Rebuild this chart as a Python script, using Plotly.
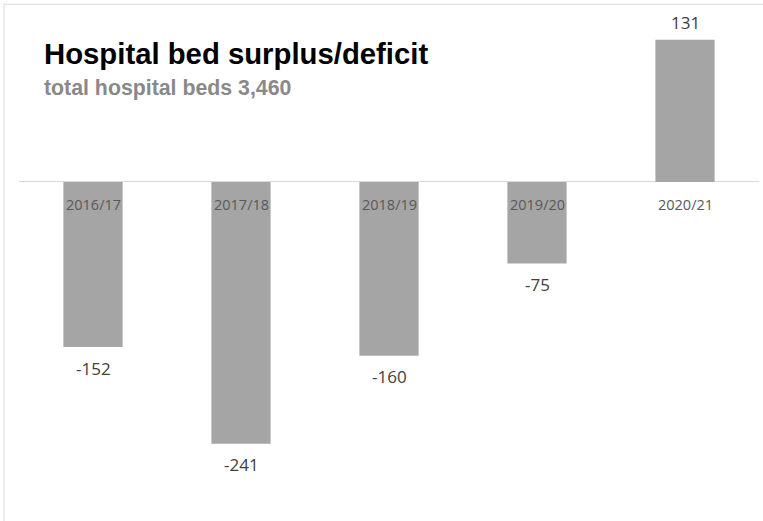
import plotly.graph_objects as go

categories = ["2016/17", "2017/18", "2018/19", "2019/20", "2020/21"]
values = [-152, -241, -160, -75, 131]
title_text = "Hospital bed surplus/deficit"
subtitle_text = "total hospital beds 3,460"

W, H = 763, 521
ML, MR, MT, MB = 19, 4, 18.8, 23.5
PW, PH = W - ML - MR, H - MT - MB

def px_x(p):
    return (p - ML) / PW

def px_y(p):
    return 1 - (p - MT) / PH

fig = go.Figure()
fig.add_trace(go.Bar(
    x=categories, y=values,
    marker=dict(color="#A5A5A5", line=dict(width=0)),
    width=0.4, hoverinfo="skip",
))

annotations = []
for c, v in zip(categories, values):
    annotations.append(dict(
        x=c, y=v, xref="x", yref="y", text=str(v), showarrow=False,
        yshift=17 if v > 0 else -21,
        font=dict(family="Open Sans", size=17, color="#404040"),
    ))
    annotations.append(dict(
        x=c, y=0, xref="x", yref="y", text=c, showarrow=False,
        yshift=-23,
        font=dict(family="Open Sans", size=14.5, color="#595959"),
    ))

annotations.append(dict(
    x=px_x(42), y=px_y(53), xref="paper", yref="paper", xanchor="left", yanchor="middle",
    text="<b>" + title_text + "</b>", showarrow=False,
    font=dict(family="Liberation Sans", size=29.3, color="#000000"),
))
annotations.append(dict(
    x=px_x(42), y=px_y(88), xref="paper", yref="paper", xanchor="left", yanchor="middle",
    text="<b>" + subtitle_text + "</b>", showarrow=False,
    font=dict(family="Liberation Sans", size=21.3, color="#898989"),
))

fig.update_layout(
    width=W, height=H,
    margin=dict(l=ML, r=MR, t=MT, b=MB, pad=0),
    paper_bgcolor="white", plot_bgcolor="white",
    showlegend=False,
    bargap=0.6,
    xaxis=dict(visible=False, range=[-0.5, 4.5]),
    yaxis=dict(range=[-290, 150], showgrid=False, showticklabels=False, ticks="",
               zeroline=True, zerolinecolor="#D9D9D9", zerolinewidth=1, showline=False),
    annotations=annotations,
    shapes=[dict(type="rect", xref="paper", yref="paper",
                 x0=px_x(4), y0=-1, x1=2, y1=px_y(4),
                 line=dict(color="#D9D9D9", width=1), fillcolor="rgba(0,0,0,0)", layer="below")],
)

fig.write_html("out.html", config={"displayModeBar": False},
               post_script="document.body.style.margin='0';")
